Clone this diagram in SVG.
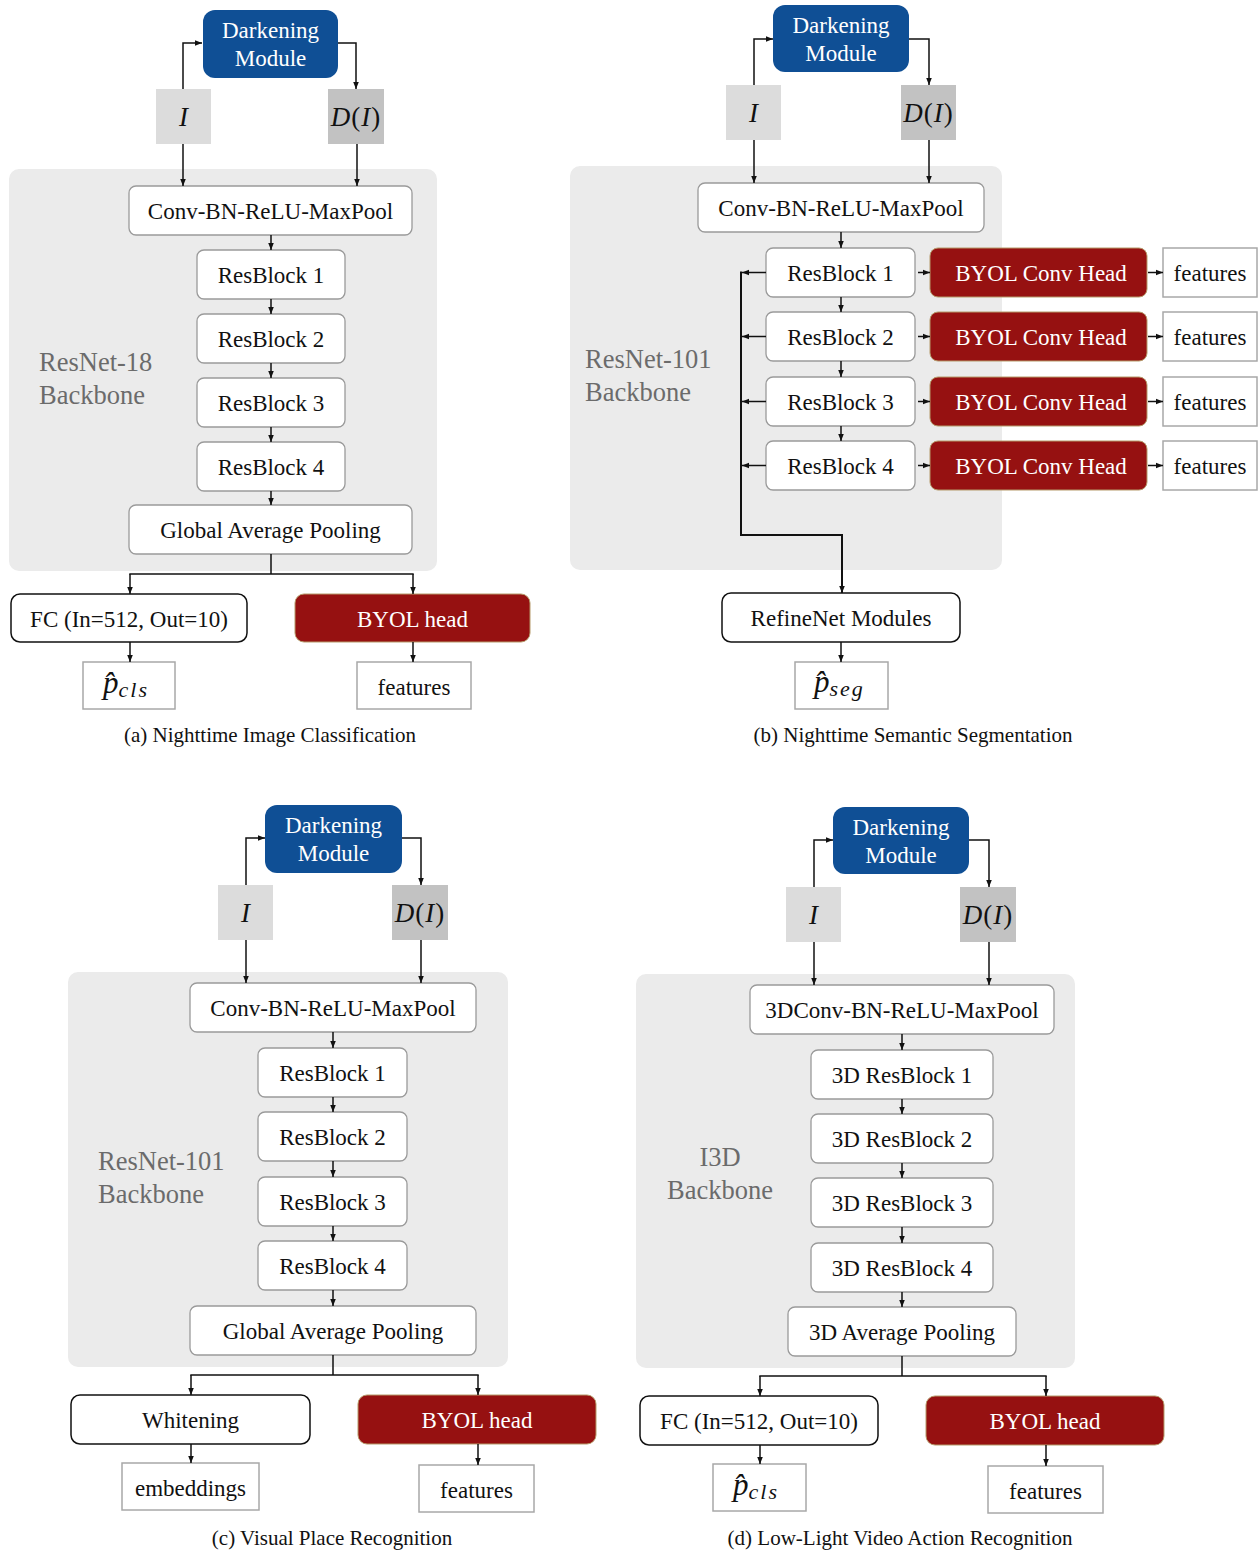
<svg xmlns="http://www.w3.org/2000/svg" width="1258" height="1553" viewBox="0 0 1258 1553">
<defs>
<marker id="ah" viewBox="0 0 8 8" refX="8" refY="4" markerWidth="7" markerHeight="7" markerUnits="userSpaceOnUse" orient="auto">
<path d="M0,0.8 L8,4 L0,7.2 z" fill="#111"/>
</marker>
<style>
text{font-family:"Liberation Serif","Times New Roman",serif;}
.panel{fill:#ebebeb;}
.dark{fill:#0f4f95;}
.wt{fill:#fff;font-size:23px;text-anchor:middle;}
.blk{fill:#fff;stroke:#9a9a9a;stroke-width:1.3;}
.blkd{fill:#fff;stroke:#111;stroke-width:1.5;}
.byol{fill:#961111;stroke:#b59a6a;stroke-width:1;}
.out{fill:#fff;stroke:#a8a8a8;stroke-width:1.5;}
.ii{fill:#dcdcdc;}
.di{fill:#c2c2c2;}
.t{fill:#111;font-size:23px;text-anchor:middle;}
.m{fill:#111;font-size:27px;text-anchor:middle;letter-spacing:1px;}
.lab{fill:#6b6b6b;font-size:26.5px;}
.cap{fill:#111;font-size:21px;text-anchor:middle;}
.p{fill:#111;font-style:italic;font-size:31px;}
.c path{fill:none;stroke:#111;stroke-width:1.5;}
.c path.a{marker-end:url(#ah);}
</style>
</defs>
<rect width="1258" height="1553" fill="#fff"/>

<!-- Panels -->
<rect class="panel" x="9" y="169" width="428" height="402" rx="10"/>
<rect class="panel" x="570" y="166" width="432" height="404" rx="10"/>
<rect class="panel" x="68" y="972" width="440" height="395" rx="10"/>
<rect class="panel" x="636" y="974" width="439" height="394" rx="10"/>

<text class="lab" x="39" y="371">ResNet-18</text>
<text class="lab" x="39" y="404">Backbone</text>
<text class="lab" x="585" y="368">ResNet-101</text>
<text class="lab" x="585" y="401">Backbone</text>
<text class="lab" x="98" y="1170">ResNet-101</text>
<text class="lab" x="98" y="1203">Backbone</text>
<text class="lab" x="720" y="1166" text-anchor="middle">I3D</text>
<text class="lab" x="720" y="1199" text-anchor="middle">Backbone</text>

<!-- ============ Panel (a) ============ -->
<g id="a-dark"><rect class="dark" x="203" y="10" width="135" height="68" rx="12"/><text class="wt" x="270.5" y="38">Darkening</text><text class="wt" x="270.5" y="66">Module</text></g>
<g id="a-I"><rect class="ii" x="156" y="89" width="55" height="55"/><text class="m" x="184" y="126" font-style="italic">I</text></g>
<g id="a-DI"><rect class="di" x="328" y="89" width="56" height="55"/><text class="m" x="356" y="126"><tspan font-style="italic">D</tspan>(<tspan font-style="italic">I</tspan>)</text></g>
<g id="a-conv"><rect class="blk" x="129" y="186" width="283" height="49" rx="7"/><text class="t" x="270.5" y="219">Conv-BN-ReLU-MaxPool</text></g>
<g id="a-rb1"><rect class="blk" x="197" y="250" width="148" height="49" rx="7"/><text class="t" x="271" y="283">ResBlock 1</text></g>
<g id="a-rb2"><rect class="blk" x="197" y="314" width="148" height="49" rx="7"/><text class="t" x="271" y="347">ResBlock 2</text></g>
<g id="a-rb3"><rect class="blk" x="197" y="378" width="148" height="49" rx="7"/><text class="t" x="271" y="411">ResBlock 3</text></g>
<g id="a-rb4"><rect class="blk" x="197" y="442" width="148" height="49" rx="7"/><text class="t" x="271" y="475">ResBlock 4</text></g>
<g id="a-gap"><rect class="blk" x="129" y="505" width="283" height="49" rx="7"/><text class="t" x="270.5" y="538">Global Average Pooling</text></g>
<g id="a-fc"><rect class="blkd" x="11" y="594" width="236" height="48" rx="9"/><text class="t" x="129" y="627">FC (In=512, Out=10)</text></g>
<g id="a-byol"><rect class="byol" x="295" y="594" width="235" height="48" rx="9"/><text class="wt" x="412.5" y="627">BYOL head</text></g>
<g id="a-pcls"><rect class="out" x="83" y="662" width="92" height="47"/><text class="p" x="103" y="693">p̂<tspan font-size="22" dy="4" letter-spacing="2">cls</tspan></text></g>
<g id="a-feat"><rect class="out" x="357" y="662" width="114" height="47"/><text class="t" x="414" y="695">features</text></g>
<text class="cap" x="270" y="742">(a) Nighttime Image Classification</text>

<!-- ============ Panel (b) ============ -->
<g id="b-dark"><rect class="dark" x="773" y="5" width="136" height="67" rx="12"/><text class="wt" x="841" y="33">Darkening</text><text class="wt" x="841" y="61">Module</text></g>
<g id="b-I"><rect class="ii" x="726" y="85" width="55" height="55"/><text class="m" x="754" y="122" font-style="italic">I</text></g>
<g id="b-DI"><rect class="di" x="901" y="85" width="55" height="55"/><text class="m" x="928.5" y="122"><tspan font-style="italic">D</tspan>(<tspan font-style="italic">I</tspan>)</text></g>
<g id="b-conv"><rect class="blk" x="698" y="183" width="286" height="49" rx="7"/><text class="t" x="841" y="216">Conv-BN-ReLU-MaxPool</text></g>
<g id="b-rb1"><rect class="blk" x="766" y="248" width="149" height="49" rx="7"/><text class="t" x="840.5" y="281">ResBlock 1</text></g>
<g id="b-rb2"><rect class="blk" x="766" y="312" width="149" height="49" rx="7"/><text class="t" x="840.5" y="345">ResBlock 2</text></g>
<g id="b-rb3"><rect class="blk" x="766" y="377" width="149" height="49" rx="7"/><text class="t" x="840.5" y="410">ResBlock 3</text></g>
<g id="b-rb4"><rect class="blk" x="766" y="441" width="149" height="49" rx="7"/><text class="t" x="840.5" y="474">ResBlock 4</text></g>
<g id="b-h1"><rect class="byol" x="930" y="248" width="217" height="49" rx="8"/><text class="wt" x="1041" y="281">BYOL Conv Head</text></g>
<g id="b-h2"><rect class="byol" x="930" y="312" width="217" height="49" rx="8"/><text class="wt" x="1041" y="345">BYOL Conv Head</text></g>
<g id="b-h3"><rect class="byol" x="930" y="377" width="217" height="49" rx="8"/><text class="wt" x="1041" y="410">BYOL Conv Head</text></g>
<g id="b-h4"><rect class="byol" x="930" y="441" width="217" height="49" rx="8"/><text class="wt" x="1041" y="474">BYOL Conv Head</text></g>
<g id="b-f1"><rect class="out" x="1163" y="248" width="94" height="49"/><text class="t" x="1210" y="281">features</text></g>
<g id="b-f2"><rect class="out" x="1163" y="312" width="94" height="49"/><text class="t" x="1210" y="345">features</text></g>
<g id="b-f3"><rect class="out" x="1163" y="377" width="94" height="49"/><text class="t" x="1210" y="410">features</text></g>
<g id="b-f4"><rect class="out" x="1163" y="441" width="94" height="49"/><text class="t" x="1210" y="474">features</text></g>
<g id="b-refine"><rect class="blkd" x="722" y="593" width="238" height="49" rx="9"/><text class="t" x="841" y="626">RefineNet Modules</text></g>
<g id="b-pseg"><rect class="out" x="795" y="662" width="93" height="47"/><text class="p" x="814" y="692">p̂<tspan font-size="22" dy="4" letter-spacing="2">seg</tspan></text></g>
<text class="cap" x="913" y="742">(b) Nighttime Semantic Segmentation</text>

<!-- ============ Panel (c) ============ -->
<g id="c-dark"><rect class="dark" x="265" y="805" width="137" height="68" rx="12"/><text class="wt" x="333.5" y="833">Darkening</text><text class="wt" x="333.5" y="861">Module</text></g>
<g id="c-I"><rect class="ii" x="218" y="885" width="55" height="55"/><text class="m" x="246" y="922" font-style="italic">I</text></g>
<g id="c-DI"><rect class="di" x="392" y="885" width="56" height="55"/><text class="m" x="420" y="922"><tspan font-style="italic">D</tspan>(<tspan font-style="italic">I</tspan>)</text></g>
<g id="c-conv"><rect class="blk" x="190" y="983" width="286" height="49" rx="7"/><text class="t" x="333" y="1016">Conv-BN-ReLU-MaxPool</text></g>
<g id="c-rb1"><rect class="blk" x="258" y="1048" width="149" height="49" rx="7"/><text class="t" x="332.5" y="1081">ResBlock 1</text></g>
<g id="c-rb2"><rect class="blk" x="258" y="1112" width="149" height="49" rx="7"/><text class="t" x="332.5" y="1145">ResBlock 2</text></g>
<g id="c-rb3"><rect class="blk" x="258" y="1177" width="149" height="49" rx="7"/><text class="t" x="332.5" y="1210">ResBlock 3</text></g>
<g id="c-rb4"><rect class="blk" x="258" y="1241" width="149" height="49" rx="7"/><text class="t" x="332.5" y="1274">ResBlock 4</text></g>
<g id="c-gap"><rect class="blk" x="190" y="1306" width="286" height="49" rx="7"/><text class="t" x="333" y="1339">Global Average Pooling</text></g>
<g id="c-white"><rect class="blkd" x="71" y="1395" width="239" height="49" rx="9"/><text class="t" x="190.5" y="1428">Whitening</text></g>
<g id="c-byol"><rect class="byol" x="358" y="1395" width="238" height="49" rx="9"/><text class="wt" x="477" y="1428">BYOL head</text></g>
<g id="c-emb"><rect class="out" x="122" y="1463" width="137" height="47"/><text class="t" x="190.5" y="1496">embeddings</text></g>
<g id="c-feat"><rect class="out" x="419" y="1465" width="115" height="47"/><text class="t" x="476.5" y="1498">features</text></g>
<text class="cap" x="332" y="1545">(c) Visual Place Recognition</text>

<!-- ============ Panel (d) ============ -->
<g id="d-dark"><rect class="dark" x="833" y="807" width="136" height="67" rx="12"/><text class="wt" x="901" y="835">Darkening</text><text class="wt" x="901" y="863">Module</text></g>
<g id="d-I"><rect class="ii" x="786" y="887" width="55" height="55"/><text class="m" x="814" y="924" font-style="italic">I</text></g>
<g id="d-DI"><rect class="di" x="960" y="887" width="56" height="55"/><text class="m" x="988" y="924"><tspan font-style="italic">D</tspan>(<tspan font-style="italic">I</tspan>)</text></g>
<g id="d-conv"><rect class="blk" x="750" y="985" width="304" height="49" rx="7"/><text class="t" x="902" y="1018">3DConv-BN-ReLU-MaxPool</text></g>
<g id="d-rb1"><rect class="blk" x="811" y="1050" width="182" height="49" rx="7"/><text class="t" x="902" y="1083">3D ResBlock 1</text></g>
<g id="d-rb2"><rect class="blk" x="811" y="1114" width="182" height="49" rx="7"/><text class="t" x="902" y="1147">3D ResBlock 2</text></g>
<g id="d-rb3"><rect class="blk" x="811" y="1178" width="182" height="49" rx="7"/><text class="t" x="902" y="1211">3D ResBlock 3</text></g>
<g id="d-rb4"><rect class="blk" x="811" y="1243" width="182" height="49" rx="7"/><text class="t" x="902" y="1276">3D ResBlock 4</text></g>
<g id="d-pool"><rect class="blk" x="788" y="1307" width="228" height="49" rx="7"/><text class="t" x="902" y="1340">3D Average Pooling</text></g>
<g id="d-fc"><rect class="blkd" x="640" y="1396" width="238" height="49" rx="9"/><text class="t" x="759" y="1429">FC (In=512, Out=10)</text></g>
<g id="d-byol"><rect class="byol" x="926" y="1396" width="238" height="49" rx="9"/><text class="wt" x="1045" y="1429">BYOL head</text></g>
<g id="d-pcls"><rect class="out" x="713" y="1464" width="93" height="47"/><text class="p" x="733" y="1495">p̂<tspan font-size="22" dy="4" letter-spacing="2">cls</tspan></text></g>
<g id="d-feat"><rect class="out" x="988" y="1466" width="115" height="47"/><text class="t" x="1045.5" y="1499">features</text></g>
<text class="cap" x="900" y="1545">(d) Low-Light Video Action Recognition</text>

<!-- ============ Connectors ============ -->
<g id="connectors" class="c">
<!-- a -->
<path class="a" d="M183,89 V43 H202"/>
<path class="a" d="M338,43 H356 V89"/>
<path class="a" d="M183,144 V186"/>
<path class="a" d="M357,144 V186"/>
<path class="a" d="M271,235 V250"/>
<path class="a" d="M271,299 V314"/>
<path class="a" d="M271,363 V378"/>
<path class="a" d="M271,427 V442"/>
<path class="a" d="M271,491 V505"/>
<path d="M271,554 V574 M129.3,574 H413.7"/>
<path class="a" d="M130,574 V594"/>
<path class="a" d="M413,574 V594"/>
<path class="a" d="M130,642 V662"/>
<path class="a" d="M413,642 V662"/>
<!-- b -->
<path class="a" d="M754,85 V39 H773"/>
<path class="a" d="M909,39 H929 V85"/>
<path class="a" d="M754,140 V183"/>
<path class="a" d="M929,140 V183"/>
<path class="a" d="M841,232 V248"/>
<path class="a" d="M841,297 V312"/>
<path class="a" d="M841,361 V377"/>
<path class="a" d="M841,426 V441"/>
<path class="a" d="M918,272.5 H930"/>
<path class="a" d="M918,336.5 H930"/>
<path class="a" d="M918,401.5 H930"/>
<path class="a" d="M918,465.5 H930"/>
<path class="a" d="M1148,272.5 H1163"/>
<path class="a" d="M1148,336.5 H1163"/>
<path class="a" d="M1148,401.5 H1163"/>
<path class="a" d="M1148,465.5 H1163"/>
<path class="a" d="M766,272.5 H742"/>
<path class="a" d="M766,336.5 H742"/>
<path class="a" d="M766,401.5 H742"/>
<path class="a" d="M766,465.5 H742"/>
<path class="a" d="M741,271.5 V535 H842 V593" style="stroke-width:2"/>
<path class="a" d="M841,642 V662"/>
<!-- c -->
<path class="a" d="M246,885 V838 H265"/>
<path class="a" d="M402,838 H421 V885"/>
<path class="a" d="M246,940 V983"/>
<path class="a" d="M421,940 V983"/>
<path class="a" d="M333,1032 V1048"/>
<path class="a" d="M333,1097 V1112"/>
<path class="a" d="M333,1161 V1177"/>
<path class="a" d="M333,1226 V1241"/>
<path class="a" d="M333,1290 V1306"/>
<path d="M333,1355 V1375 M190.3,1375 H478.7"/>
<path class="a" d="M191,1375 V1395"/>
<path class="a" d="M478,1375 V1395"/>
<path class="a" d="M191,1444 V1463"/>
<path class="a" d="M478,1444 V1465"/>
<!-- d -->
<path class="a" d="M814,887 V840 H833"/>
<path class="a" d="M969,840 H989 V887"/>
<path class="a" d="M814,942 V985"/>
<path class="a" d="M989,942 V985"/>
<path class="a" d="M902,1034 V1050"/>
<path class="a" d="M902,1099 V1114"/>
<path class="a" d="M902,1163 V1178"/>
<path class="a" d="M902,1227 V1243"/>
<path class="a" d="M902,1292 V1307"/>
<path d="M902,1356 V1376 M759.3,1376 H1046.7"/>
<path class="a" d="M760,1376 V1396"/>
<path class="a" d="M1046,1376 V1396"/>
<path class="a" d="M760,1445 V1464"/>
<path class="a" d="M1046,1445 V1466"/>
</g>
</svg>
